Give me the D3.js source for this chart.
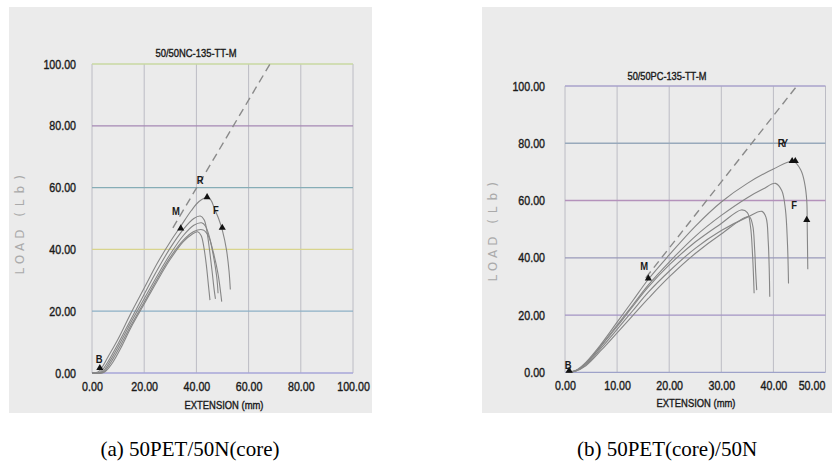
<!DOCTYPE html>
<html>
<head>
<meta charset="utf-8">
<script src="https://cdn.jsdelivr.net/npm/d3@7"></script>
<style>
  html, body { margin: 0; padding: 0; background: #ffffff; }
  svg { display: block; }
</style>
</head>
<body>
<svg id="chart" width="832" height="468"></svg>
<script>
// ---------------- DATA ----------------
// Panel (a) 50/50NC-135-TT-M : [extension (mm), load (Lb)]
const leftTitle = "50/50NC-135-TT-M";
const leftCaption = "(a) 50PET/50N(core)";
const leftXTicks = [0, 20, 40, 60, 80, 100];
const leftYTicks = [0, 20, 40, 60, 80, 100];
const leftCurveA = [[0,0],[2,0.2],[3,0.8],[4,2],[6,5],[10,11],[15,19.5],[20,27.5],[25,35.5],[30,42.5],[34,47.5],[38,52.5],[41,55.5],[44,56.8],[45.5,56],[47,53],[48.5,50],[50,46],[51.5,40],[52.5,33],[53,27]];
const leftCurveB = [[0,0],[3,0.2],[4,1],[6,3.5],[10,9.5],[15,17.5],[20,25.5],[25,33.3],[30,40.5],[35,46.5],[39,50],[41.5,50.8],[43,49.5],[44,46],[45,40],[46,33],[46.8,27],[47.3,24]];
const leftCurveC = [[0,0],[3,0],[4.5,0.8],[7,4],[10,8.5],[15,16.5],[20,24],[25,31.5],[30,38.5],[35,44.5],[39,47.8],[42,48.6],[43.5,47.5],[45,44],[46.5,38],[47.8,31],[48.3,25.8]];
const leftCurveD = [[0,0],[3.5,0],[5,0.8],[8,4.5],[11,9],[15,15.5],[20,23],[25,30.5],[30,37.5],[35,43],[39,45.8],[42.6,46.3],[44.5,44.5],[46.5,39],[48.3,32],[49.7,23.1]];
const leftCurveE = [[0,0],[4,0],[5.5,0.8],[8,3.5],[11,8],[15,14.8],[20,22.3],[25,29.8],[30,36.8],[35,42.5],[38.5,45],[40.5,45.7],[41.8,44.5],[42.8,41],[43.8,35],[44.6,28.5],[45.2,23.6]];
const leftDashed = [[31,47],[68.2,100]];
const leftMarkers = [[3,1.6],[34,46.8],[44.1,56.9],[49.9,47]];
const leftLabelText = ["B","M","R","F"];
const leftLabelPos = [[2.7,4.6],[32.2,52.5],[41.4,62.3],[47.5,52.7]];

// Panel (b) 50/50PC-135-TT-M
const rightTitle = "50/50PC-135-TT-M";
const rightCaption = "(b) 50PET(core)/50N";
const rightXTicks = [0, 10, 20, 30, 40, 50];
const rightYTicks = [0, 20, 40, 60, 80, 100];
const rightCurve1 = [[0.3,0],[2,0.6],[4,3.5],[7,10],[10,17.5],[13,25],[16,32.5],[20,41],[25,51],[30,59.5],[35,66],[40,71],[43.8,73.7],[45.3,70.5],[46,66],[46.4,60],[46.5,50],[46.6,36]];
const rightCurve2 = [[0.3,0],[2,0.5],[4,3],[7,9.5],[10,16.5],[13,23.5],[16,30.5],[20,38.5],[25,47.5],[30,54.8],[35,61],[38,64],[40.4,66],[41.6,63.5],[42.3,57],[42.7,45],[42.9,31]];
const rightCurve3 = [[0.3,0],[2,0.5],[4,3],[7,9.3],[10,16],[13,23],[16,29.8],[20,37.5],[25,45.5],[30,52],[33.8,56.7],[35,55.8],[35.6,51],[36,41],[36.3,27.6]];
const rightCurve4 = [[0.3,0],[2,0.4],[4,2.6],[7,8.6],[10,15],[13,21.5],[16,28],[20,35.3],[25,43.3],[30,49.5],[35,54.2],[37.8,56.2],[38.6,54],[39,46],[39.2,36],[39.3,26.4]];
const rightCurve5 = [[0.3,0],[2,0.4],[4,2.3],[7,7.8],[10,13.8],[13,19.8],[16,25.8],[20,33.3],[25,41.5],[30,48.3],[35.3,54.4],[36,51.5],[36.4,43],[36.6,35],[36.8,28.7]];
const rightDashed = [[15.5,33],[44.5,100]];
const rightMarkers = [[0.8,0.6],[16,32.8],[43.6,73.8],[44.2,73.8],[46.4,53.2]];
const rightLabelText = ["B","M","RY","F"];
const rightLabelPos = [[0.6,2.6],[15.2,37.2],[41.6,80],[44,58.4]];

// ---------------- STYLE ----------------
const tickFont = "'Liberation Sans',Arial,sans-serif";
const NARROW = 0.82;
const leftHColors = ["#a7a6d8", "#8db0c6", "#d8d48c", "#86adb6", "#a688b4", "#c9d9a2"];
const rightHColors = ["#9ea2c9", "#a394c4", "#9a9aba", "#b492bb", "#98a9bb", "#a9a2cb"];

const svg = d3.select("#chart");

// condense text like Arial Narrow
function narrow(sel, target) {
  sel.each(function () {
    const L = target || this.getComputedTextLength() * NARROW;
    d3.select(this).attr("textLength", L).attr("lengthAdjust", "spacingAndGlyphs");
  });
}
function darkText(sel, size) {
  sel.attr("font-family", tickFont).attr("font-size", size)
    .attr("fill", "#1a1a1a").attr("stroke", "#1a1a1a").attr("stroke-width", 0.4);
}

function drawPanel(cfg) {
  const g = svg.append("g");
  g.append("rect").attr("x", cfg.bg[0]).attr("y", cfg.bg[1])
    .attr("width", cfg.bg[2]).attr("height", cfg.bg[3]).attr("fill", "#ebebeb");

  const x = d3.scaleLinear().domain(cfg.xDomain).range(cfg.xRange);
  const y = d3.scaleLinear().domain([0, 100]).range(cfg.yRange);

  // vertical grid
  g.selectAll(".vg").data(cfg.xTicks).join("line")
    .attr("x1", d => x(d)).attr("x2", d => x(d))
    .attr("y1", y(0)).attr("y2", y(100))
    .attr("stroke", "#bcbcc4").attr("stroke-width", 1);
  // horizontal grid
  g.selectAll(".hg").data(cfg.yTicks).join("line")
    .attr("x1", x(cfg.xDomain[0])).attr("x2", x(cfg.xDomain[1]))
    .attr("y1", d => y(d)).attr("y2", d => y(d))
    .attr("stroke", (d, i) => cfg.hColors[i]).attr("stroke-width", 1.3);

  // axes (labels only)
  const yAxis = d3.axisLeft(y).tickValues(cfg.yTicks).tickFormat(d3.format(".2f"))
    .tickSize(0).tickPadding(cfg.yPad);
  const ya = g.append("g").attr("transform", `translate(${x(cfg.xDomain[0])},0)`).call(yAxis);
  ya.select(".domain").remove();
  ya.selectAll("text").call(darkText, 13).call(narrow);

  const xAxis = d3.axisBottom(x).tickValues(cfg.xTicks).tickFormat(d3.format(".2f"))
    .tickSize(0).tickPadding(cfg.xPad);
  const xa = g.append("g").attr("transform", `translate(0,${y(0)})`).call(xAxis);
  xa.select(".domain").remove();
  xa.selectAll("text").call(darkText, 13).call(narrow);
  if (cfg.lastTickShift) {
    xa.selectAll("text").filter((d, i, n) => i === n.length - 1).attr("dx", cfg.lastTickShift);
  }

  // title
  g.append("text").attr("x", cfg.titlePos[0]).attr("y", cfg.titlePos[1])
    .attr("text-anchor", "middle").call(darkText, 11.5).text(cfg.title).call(narrow, cfg.titleWidth);
  // x label
  g.append("text").attr("x", cfg.xLabelPos[0]).attr("y", cfg.xLabelPos[1])
    .attr("text-anchor", "middle").call(darkText, 11.5).text("EXTENSION  (mm)").call(narrow, 79);
  // y label (two parts, widely spaced, light gray)
  const yl = [["LOAD", cfg.yLabelPos[1], 4], ["(Lb)", cfg.yLabelPos[2], 6]];
  g.selectAll(".yl").data(yl).join("text")
    .attr("transform", d => `translate(${cfg.yLabelPos[0]},${d[1]}) rotate(-90)`)
    .attr("text-anchor", "middle").attr("font-family", "'DejaVu Sans','Liberation Sans',sans-serif")
    .attr("font-size", 12).attr("letter-spacing", d => d[2]).attr("fill", "#aaaaaa")
    .text(d => d[0]);

  // curves
  const line = d3.line().x(d => x(d[0])).y(d => y(d[1])).curve(d3.curveCatmullRom.alpha(0.5));
  g.selectAll(".curve").data(cfg.curves).join("path")
    .attr("d", line).attr("fill", "none").attr("stroke", "#868686").attr("stroke-width", 1.1);

  // dashed line
  g.append("path").attr("d", d3.line().x(d => x(d[0])).y(d => y(d[1]))(cfg.dashed))
    .attr("fill", "none").attr("stroke", "#8a8a8a").attr("stroke-width", 1.4)
    .attr("stroke-dasharray", "8,5");

  // markers
  const tri = d3.symbol().type(d3.symbolTriangle).size(22);
  g.selectAll(".mk").data(cfg.markers).join("path")
    .attr("d", tri).attr("transform", d => `translate(${x(d[0])},${y(d[1])})`)
    .attr("fill", "#111");

  // labels
  g.selectAll(".lb").data(cfg.labelText).join("text")
    .attr("x", (d, i) => x(cfg.labelPos[i][0])).attr("y", (d, i) => y(cfg.labelPos[i][1]) + 4)
    .attr("text-anchor", "middle").attr("font-family", tickFont).attr("font-size", 11.5)
    .attr("font-weight", "bold").attr("letter-spacing", d => d.length > 1 ? -3 : 0)
    .attr("fill", "#1a1a1a").text(d => d).call(narrow);

  // caption
  svg.append("text").attr("x", cfg.captionPos[0]).attr("y", cfg.captionPos[1])
    .attr("text-anchor", "middle").attr("font-family", "'Liberation Serif','Times New Roman',serif")
    .attr("font-size", 21).attr("fill", "#000").text(cfg.caption);
}

drawPanel({
  bg: [9, 7, 363, 406],
  xDomain: [0, 100], xRange: [92, 353], yRange: [373, 64],
  xTicks: leftXTicks, yTicks: leftYTicks, hColors: leftHColors,
  yPad: 16, xPad: 9,
  title: leftTitle, titlePos: [196, 57], titleWidth: 81,
  xLabelPos: [224, 409], yLabelPos: [24, 250, 193],
  curves: [leftCurveA, leftCurveB, leftCurveC, leftCurveD, leftCurveE],
  dashed: leftDashed, markers: leftMarkers,
  labelText: leftLabelText, labelPos: leftLabelPos,
  caption: leftCaption, captionPos: [190, 456]
});

drawPanel({
  bg: [482, 7, 350, 406],
  xDomain: [0, 50], xRange: [565, 825.5], yRange: [372.3, 86],
  xTicks: rightXTicks, yTicks: rightYTicks, hColors: rightHColors,
  yPad: 20, xPad: 8, lastTickShift: -14,
  title: rightTitle, titlePos: [667, 80], titleWidth: 79,
  xLabelPos: [696, 407], yLabelPos: [497, 257, 200],
  curves: [rightCurve1, rightCurve2, rightCurve3, rightCurve4, rightCurve5],
  dashed: rightDashed, markers: rightMarkers,
  labelText: rightLabelText, labelPos: rightLabelPos,
  caption: rightCaption, captionPos: [667, 456]
});
</script>
</body>
</html>
